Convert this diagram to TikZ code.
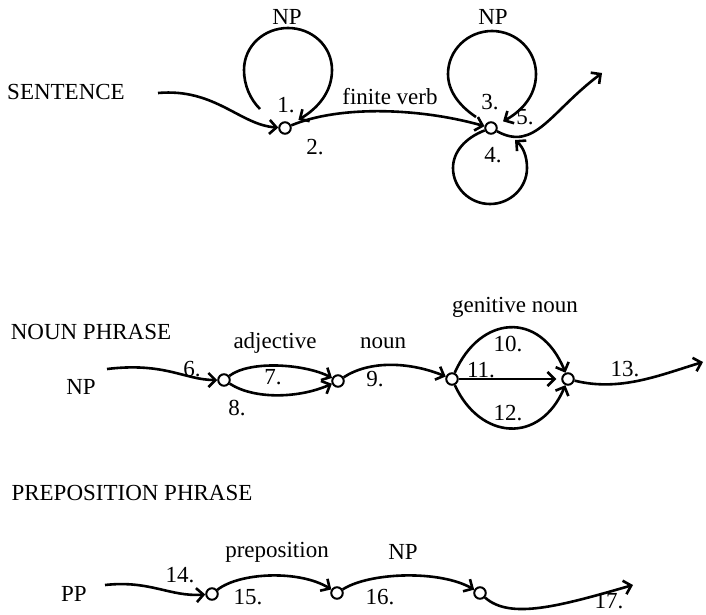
\documentclass[tikz,border=0pt]{standalone}
\usepackage{fontspec}
\setmainfont{Liberation Serif}
\usetikzlibrary{arrows.meta}
\begin{document}
\begin{tikzpicture}[x=1pt,y=-1pt,
  lbl/.style={inner sep=0pt,font=\fontsize{23}{26}\selectfont},
  st/.style={circle,draw,line width=2pt,minimum size=11.5pt,inner sep=0pt,fill=white},
  arr/.style={line width=2.6pt,-{Straight Barb[length=7pt,width=14pt]}},
  ln/.style={line width=2.6pt}]
\useasboundingbox (0,0) rectangle (706,615);
% ---------------- SENTENCE ----------------
\node[lbl] (sent) at (66,92) {SENTENCE};
\coordinate (s0) at (158,93);
\node[st] (n1) at (285,128) {};
\node[st] (n2) at (491,128) {};
\coordinate (ls1) at (260,109);
\coordinate (ls2) at (476,117);
\coordinate (e4) at (515,140);
\coordinate (e5) at (602,73);
\node[lbl] (np1) at (287,17) {NP};
\node[lbl] (l1) at (286,105) {1.};
\node[lbl] (l2) at (315,147) {2.};
\node[lbl] (fv) at (390,97) {finite verb};
\node[lbl] (np2) at (493,17) {NP};
\node[lbl] (l3) at (490,102) {3.};
\node[lbl] (l5) at (525,117) {5.};
\node[lbl] (l4) at (493,155) {4.};
\draw[arr] (s0) .. controls (215,88) and (240,125) .. (n1);
\draw[arr,shorten >=9pt] (ls1) .. controls (250,99) and (244,85) .. (244,70)
   .. controls (244,46) and (264,28) .. (288,28)
   .. controls (312,28) and (332,46) .. (332,70)
   .. controls (332,92) and (318,108) .. (n1);
\draw[arr] (n1) .. controls (340,105) and (420,108) .. (n2);
\draw[arr,shorten >=7pt] (ls2) .. controls (458,105) and (448,90) .. (448,74)
   .. controls (448,50) and (468,31) .. (492,31)
   .. controls (516,31) and (536,50) .. (536,74)
   .. controls (536,97) and (520,112) .. (n2);
\draw[arr] (n2) .. controls (465,138) and (453,152) .. (453,168)
   .. controls (453,188) and (470,204) .. (490,204)
   .. controls (510,204) and (527,188) .. (527,168)
   .. controls (527,156) and (523,147) .. (e4);
\draw[arr] (n2) .. controls (535,152) and (550,112) .. (e5);
% ---------------- NOUN PHRASE ----------------
\node[lbl] (nph) at (91,332) {NOUN PHRASE};
\node[lbl] (np3) at (81,387) {NP};
\coordinate (e6) at (107,369);
\node[st] (A) at (224,380) {};
\node[st] (B) at (338,381) {};
\node[st] (C) at (452,379) {};
\node[st] (D) at (568,379) {};
\coordinate (e13) at (703,362);
\node[lbl] (l6) at (192,369) {6.};
\node[lbl] (adj) at (275,343) {adjective};
\node[lbl] (l7) at (273,377) {7.};
\node[lbl] (l8) at (237,408) {8.};
\node[lbl] (noun) at (383,343) {noun};
\node[lbl] (l9) at (375,379) {9.};
\node[lbl] (gen) at (515,307) {genitive noun};
\node[lbl] (l10) at (508,344) {10.};
\node[lbl] (l11) at (481,370) {11.};
\node[lbl] (l12) at (508,413) {12.};
\node[lbl] (l13) at (625,369) {13.};
\draw[arr] (e6) .. controls (165,362) and (185,380) .. (A);
\draw[arr] (A) .. controls (250,360) and (305,364) .. (B);
\draw[arr] (A) .. controls (255,400) and (300,398) .. (B);
\draw[arr] (B) .. controls (370,360) and (410,362) .. (C);
\draw[arr] (C) .. controls (480,315) and (540,310) .. (D);
\draw[arr,shorten >=5pt] (C) -- (D);
\draw[arr] (C) .. controls (480,440) and (540,445) .. (D);
\draw[arr] (D) .. controls (620,392) and (660,375) .. (e13);
% ---------------- PREPOSITION PHRASE ----------------
\node[lbl] (pph) at (132,493) {PREPOSITION PHRASE};
\node[lbl] (pp) at (74,594) {PP};
\coordinate (e14) at (105,585);
\node[st] (P1) at (212,594) {};
\node[st] (P2) at (337,593) {};
\node[st] (P3) at (480,593) {};
\coordinate (e17) at (633,585);
\node[lbl] (l14) at (180,575) {14.};
\node[lbl] (prep) at (277,552) {preposition};
\node[lbl] (l15) at (248,597) {15.};
\node[lbl] (np4) at (403,552) {NP};
\node[lbl] (l16) at (380,597) {16.};
\node[lbl] (l17) at (609,601) {17.};
\draw[arr] (e14) .. controls (150,580) and (170,597) .. (P1);
\draw[arr] (P1) .. controls (240,572) and (300,570) .. (P2);
\draw[arr] (P2) .. controls (370,572) and (440,570) .. (P3);
\draw[arr] (P3) .. controls (510,620) and (560,606) .. (e17);
\end{tikzpicture}
\end{document}
